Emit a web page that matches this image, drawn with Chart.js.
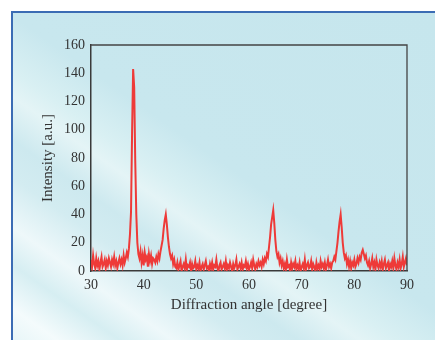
<!DOCTYPE html>
<html>
<head>
<meta charset="utf-8">
<script src="https://cdn.jsdelivr.net/npm/chart.js@4.4.1/dist/chart.umd.min.js"></script>
<style>
    html, body { margin: 0; padding: 0; background: #fff; }
    #wrap { position: relative; width: 435px; height: 340px; overflow: hidden; }
    #panel {
        position: absolute; left: 11px; top: 11px; right: 0; bottom: 0;
        border-left: 2px solid #3b6cb4;
        border-top: 2px solid #3b6cb4;
        background: linear-gradient(215deg,
            #c6e6ed 0%, #c8e7ee 48%, #d9f0f3 57%, #e4f4f6 61%,
            #cde9ef 68%, #d3ecf1 74%, #eef8fa 82%, #d6eef2 88%,
            #f4fbfc 95%, #e8f6f8 100%);
    }
    canvas { position: absolute; left: 0; top: 0; }
</style>
</head>
<body>
<div id="wrap">
    <div id="panel"></div>
    <canvas id="XRD_Chart" width="435" height="340"></canvas>
</div>
<script>
// XRD pattern, intensity every 0.2 degree from 30 to 90
const angleStart = 30;
const angleStep = 0.2;

const intensity = [
    // 30.0 - 37.0
    8, 3, 11, 5, 2, 9, 4, 7, 1, 6, 10, 3, 5, 8, 2, 7, 4, 9, 6, 3,
    8, 5, 10, 4, 7, 2, 6, 9, 5, 8, 4, 11, 6, 9, 13, 10,
    // 37.2 - 39.0 main peak
    16, 26, 42, 98, 143, 130, 78, 40, 20, 12,
    // 39.2 - 42.0
    9, 14, 6, 11, 4, 13, 8, 10, 3, 12, 7, 11, 5, 9, 8,
    // 42.2 - 46.0 peak ~44.2
    6, 10, 7, 12, 9, 14, 18, 22, 30, 36, 40, 33, 24, 17, 12, 9, 11, 5, 8, 3,
    // 46.2 - 62.4
    2, 6, 1, 4, 7, 0, 3, 5, 2, 8, 1, 4, 3, 6, 0, 5, 2, 3, 7, 1,
    4, 2, 6, 0, 3, 5, 1, 4, 7, 2, 3, 0, 5, 2, 6, 1, 4, 3, 8, 2,
    0, 4, 6, 1, 3, 5, 2, 7, 1, 4, 2, 6, 3, 0, 5, 2, 4, 8, 1, 3,
    5, 2, 6, 1, 4, 3, 7, 2, 5, 1, 3, 6, 2, 8, 4, 1, 5, 3, 7, 4,
    6, 3,
    // 62.6 - 66.2 peak ~64.6
    8, 5, 9, 7, 12, 10, 17, 24, 33, 38, 43, 34, 22, 14, 10, 12, 6, 9, 4,
    // 66.4 - 75.8
    7, 2, 5, 1, 8, 3, 4, 0, 6, 2, 5, 3, 7, 1, 4, 2, 6, 0, 3, 5,
    2, 8, 1, 4, 6, 2, 3, 7, 1, 5, 3, 0, 6, 2, 4, 1, 7, 3, 5, 2,
    6, 1, 4, 8, 3, 5, 2, 6,
    // 76.0 - 78.8 peak ~77.4
    7, 10, 8, 14, 20, 28, 35, 40, 31, 20, 13, 9, 11, 5, 8,
    // 79.0 - 80.8
    3, 7, 2, 6, 4, 8, 3, 5, 9, 6,
    // 81.0 - 82.4 small peak
    10, 8, 13, 15, 12, 9, 11, 6,
    // 82.6 - 90.0
    4, 7, 2, 5, 9, 3, 6, 1, 8, 4, 2, 6, 3, 7, 1, 5, 8, 2, 4, 6,
    0, 5, 3, 7, 2, 9, 4, 1, 6, 3, 8, 2, 5, 10, 3, 6, 9, 4
];

const angles = intensity.map((_, i) => +(angleStart + i * angleStep).toFixed(1));

const xTicks = [30, 40, 50, 60, 70, 80, 90];
const yTicks = [0, 20, 40, 60, 80, 100, 120, 140, 160];

const serif = "'Liberation Serif', 'DejaVu Serif', serif";

// top and right sides of the plot frame
const framePlugin = {
    id: 'frame',
    afterDatasetsDraw(chart) {
        const { ctx, chartArea: a } = chart;
        ctx.save();
        ctx.strokeStyle = '#444';
        ctx.lineWidth = 1.3;
        ctx.beginPath();
        ctx.moveTo(a.left, a.top);
        ctx.lineTo(a.right, a.top);
        ctx.lineTo(a.right, a.bottom);
        ctx.stroke();
        ctx.restore();
    }
};

const ctx = document.getElementById('XRD_Chart').getContext('2d');

new Chart(ctx, {
    type: 'line',
    data: {
        datasets: [{
            data: angles.map((a, i) => ({ x: a, y: intensity[i] })),
            borderColor: '#ee3a38',
            borderWidth: 2,
            pointRadius: 0,
            tension: 0,
            fill: false
        }]
    },
    options: {
        responsive: false,
        animation: false,
        layout: { padding: { left: 0, top: 45, right: 28, bottom: 0 } },
        plugins: {
            legend: { display: false },
            tooltip: { enabled: false }
        },
        scales: {
            x: {
                type: 'linear',
                min: 30,
                max: 90,
                grid: { display: false, drawTicks: false },
                border: { display: true, color: '#3a3a3a', width: 1.5 },
                afterBuildTicks: s => { s.ticks = xTicks.map(v => ({ value: v })); },
                afterFit: s => { s.height = 69; },
                ticks: {
                    padding: 6,
                    color: '#333',
                    font: { family: serif, size: 14 },
                    maxRotation: 0
                },
                title: {
                    display: true,
                    text: 'Diffraction angle [degree]',
                    color: '#333',
                    font: { family: serif, size: 15 },
                    padding: { top: 0, bottom: 26 }
                }
            },
            y: {
                min: 0,
                max: 160,
                grid: { display: false, drawTicks: false },
                border: { display: true, color: '#3a3a3a', width: 1.5 },
                afterBuildTicks: s => { s.ticks = yTicks.map(v => ({ value: v })); },
                afterFit: s => { s.width = 91; },
                ticks: {
                    padding: 6,
                    color: '#333',
                    font: { family: serif, size: 14 }
                },
                title: {
                    display: true,
                    text: 'Intensity [a.u.]',
                    color: '#333',
                    font: { family: serif, size: 15 },
                    padding: { top: 39, bottom: 0 }
                }
            }
        }
    },
    plugins: [framePlugin]
});
</script>
</body>
</html>
